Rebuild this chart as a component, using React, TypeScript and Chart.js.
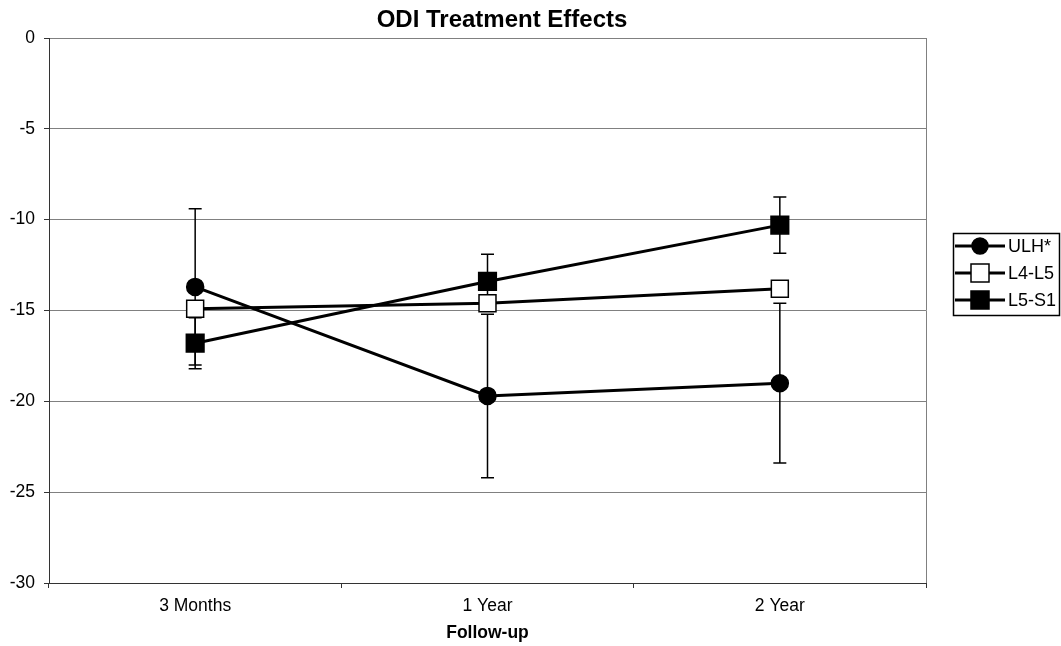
import React, { useEffect, useRef } from "react";
import { Chart, registerables } from "chart.js";

Chart.register(...registerables);

const FONT = "'Liberation Sans', Arial, Helvetica, sans-serif";

const categories = ["3 Months", "1 Year", "2 Year"];
const seriesNames = ["ULH*", "L4-L5", "L5-S1"];
const ulh = [-13.7, -19.7, -19.0];
const l4l5 = [-14.9, -14.6, -13.8];
const l5s1 = [-16.8, -13.4, -10.3];
const ulhErr = [4.3, 4.5, 4.4];
const l4l5Err = [0.4, 0.4, 0.4];
const l5s1Err = [1.4, 1.5, 1.55];
const yMin = -30;
const yMax = 0;
const yStep = 5;
const chartTitle = "ODI Treatment Effects";
const xTitle = "Follow-up";

const errors = [ulhErr, l4l5Err, l5s1Err];
const markerStyles = [
  { style: "circle", radius: 8.5, fill: "#000" },
  { style: "rect", radius: 12, fill: "#fff" },
  { style: "rect", radius: 12.5, fill: "#000" },
];

const errorBarPlugin = {
  id: "errorBars",
  beforeDatasetsDraw(chart: any) {
    const ctx = chart.ctx;
    const xs = chart.scales.x;
    const ys = chart.scales.y;
    ctx.save();
    ctx.strokeStyle = "#000";
    ctx.lineWidth = 1.5;
    chart.data.datasets.forEach((ds: any, i: number) => {
      ds.data.forEach((v: number, j: number) => {
        const e = errors[i][j];
        const x = xs.getPixelForValue(j);
        const yHi = ys.getPixelForValue(v + e);
        const yLo = ys.getPixelForValue(v - e);
        ctx.beginPath();
        ctx.moveTo(x, yHi);
        ctx.lineTo(x, yLo);
        ctx.moveTo(x - 6.5, yHi);
        ctx.lineTo(x + 6.5, yHi);
        ctx.moveTo(x - 6.5, yLo);
        ctx.lineTo(x + 6.5, yLo);
        ctx.stroke();
      });
    });
    ctx.restore();
  },
};

const decorPlugin = {
  id: "decor",
  afterDraw(chart: any) {
    const ctx = chart.ctx;
    const area = chart.chartArea;
    ctx.save();
    // right border of plot area
    ctx.strokeStyle = "#808080";
    ctx.lineWidth = 1;
    ctx.beginPath();
    ctx.moveTo(Math.round(area.right) + 0.5, area.top);
    ctx.lineTo(Math.round(area.right) + 0.5, area.bottom);
    ctx.stroke();

    // title
    ctx.fillStyle = "#000";
    ctx.textAlign = "center";
    ctx.textBaseline = "middle";
    ctx.font = `bold 24px ${FONT}`;
    ctx.fillText(chartTitle, 502, 20);

    // x axis title
    ctx.font = `bold 17.5px ${FONT}`;
    ctx.fillText(xTitle, (area.left + area.right) / 2, 633);

    // legend
    ctx.strokeStyle = "#000";
    ctx.lineWidth = 1.5;
    ctx.strokeRect(953.5, 233.5, 106, 82);
    const rows = [246, 273, 300];
    seriesNames.forEach((name, i) => {
      const y = rows[i];
      ctx.strokeStyle = "#000";
      ctx.lineWidth = 3;
      ctx.beginPath();
      ctx.moveTo(955, y);
      ctx.lineTo(1005, y);
      ctx.stroke();
      const m = markerStyles[i];
      ctx.fillStyle = m.fill;
      ctx.lineWidth = 1.5;
      if (m.style === "circle") {
        ctx.beginPath();
        ctx.arc(980, y, 8, 0, Math.PI * 2);
        ctx.fill();
        ctx.stroke();
      } else {
        ctx.fillRect(971, y - 9, 18, 18);
        ctx.strokeRect(971, y - 9, 18, 18);
      }
      ctx.fillStyle = "#000";
      ctx.textAlign = "left";
      ctx.textBaseline = "middle";
      ctx.font = `18px ${FONT}`;
      ctx.fillText(name, 1008, y + 1);
    });
    ctx.restore();
  },
};

export default function App() {
  const canvasRef = useRef<HTMLCanvasElement | null>(null);

  useEffect(() => {
    if (!canvasRef.current) return;
    const seriesData = [ulh, l4l5, l5s1];
    const chart = new Chart(canvasRef.current, {
      type: "line",
      data: {
        labels: categories,
        datasets: seriesData.map((d, i) => ({
          label: seriesNames[i],
          data: d,
          borderColor: "#000",
          borderWidth: 3,
          tension: 0,
          fill: false,
          pointStyle: markerStyles[i].style as any,
          pointRadius: markerStyles[i].radius,
          pointBackgroundColor: markerStyles[i].fill,
          pointBorderColor: "#000",
          pointBorderWidth: 1.5,
        })),
      },
      options: {
        responsive: false,
        animation: false,
        events: [],
        layout: { padding: { top: 38, right: 135, left: 0, bottom: 0 } },
        plugins: {
          legend: { display: false },
          title: { display: false },
          tooltip: { enabled: false },
        },
        scales: {
          x: {
            offset: true,
            grid: {
              offset: true,
              drawOnChartArea: false,
              tickLength: 5,
              color: "#333",
            },
            border: { color: "#333", width: 1 },
            ticks: {
              color: "#000",
              font: { family: FONT, size: 17.5 },
              padding: 8,
              maxRotation: 0,
            },
            afterFit: (s: any) => {
              s.height = 63;
            },
          },
          y: {
            min: yMin,
            max: yMax,
            ticks: {
              stepSize: yStep,
              color: "#000",
              font: { family: FONT, size: 17.5 },
              padding: 9,
            },
            grid: { color: "#808080", tickLength: 5, tickColor: "#333" },
            border: { color: "#333", width: 1 },
            afterFit: (s: any) => {
              s.width = 49;
            },
          },
        },
      },
      plugins: [errorBarPlugin, decorPlugin],
    });
    return () => chart.destroy();
  }, []);

  return (
    <div
      style={{
        position: "fixed",
        left: 0,
        top: 0,
        width: 1061,
        height: 646,
        background: "#fff",
      }}
    >
      <canvas
        ref={canvasRef}
        width={1061}
        height={646}
        style={{ display: "block", width: 1061, height: 646 }}
      />
    </div>
  );
}
